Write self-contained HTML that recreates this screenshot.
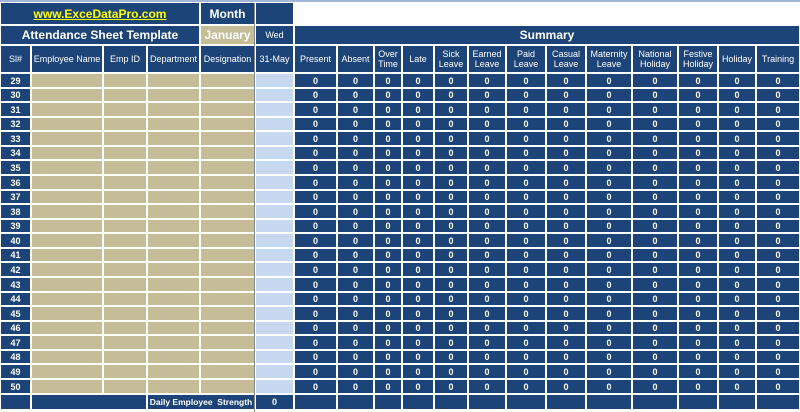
<!DOCTYPE html>
<html><head><meta charset="utf-8"><style>
body{margin:0;width:800px;height:412px;background:#fff;position:relative;overflow:hidden;font-family:"Liberation Sans",sans-serif}
.c{position:absolute;box-sizing:border-box;display:flex;align-items:center;justify-content:center;text-align:center;color:#fff;font-size:9px;line-height:10px;font-family:"Liberation Sans Narrow","Liberation Sans",sans-serif;white-space:nowrap}
.n{background:#1d4479}.t{background:#c4bd97}.b{background:#c6d9f1}
.v{font-weight:bold}
</style></head><body>
<div id="root"></div>
<script>
const cols=[[1,29],[32,101],[104,145],[148,198],[201,253],[256,292],[295,335],[338,372],[375,400],[403,432],[435,466],[469,504],[507,544],[547,584],[587,630],[633,676],[679,716],[719,754],[757,798]];
const headers=["Sl#","Employee Name","Emp ID","Department","Designation","31-May","Present","Absent","Over<br>Time","Late","Sick<br>Leave","Earned<br>Leave","Paid<br>Leave","Casual<br>Leave","Maternity<br>Leave","National<br>Holiday","Festive<br>Holiday","Holiday","Training"];
const headerNames=["sl-header","employee-name-header","emp-id-header","department-header","designation-header","date-header","present-header","absent-header","overtime-header","late-header","sick-leave-header","earned-leave-header","paid-leave-header","casual-leave-header","maternity-leave-header","national-holiday-header","festive-holiday-header","holiday-header","training-header"];
const serials=[29,30,31,32,33,34,35,36,37,38,39,40,41,42,43,44,45,46,47,48,49,50];
const summaryValues=[0,0,0,0,0,0,0,0,0,0,0,0,0];
const root=document.getElementById('root');
function cell(x1,x2,y1,y2,cls,html,name,inter,style){
 const d=document.createElement('div');
 d.className='c '+cls;
 d.style.left=x1+'px';d.style.width=(x2-x1+1)+'px';d.style.top=y1+'px';d.style.height=(y2-y1+1)+'px';
 if(style)d.style.cssText+=style;
 d.innerHTML=html;
 
 
 root.appendChild(d);return d;
}
cell(0,799,0,1,'b','','top-border',false,'background:#9fb8d8');
cell(1,198,3,23,'n','<span style="color:#ffff00;text-decoration:underline;font-size:12px;font-weight:bold">www.ExceDataPro.com</span>','website-link',true);
cell(201,253,3,23,'n','<b style="font-size:12px">Month</b>','month-label',false);
cell(256,292,3,23,'n','','blank-header-cell',false);
cell(1,198,26,43,'n','<b style="font-size:12px">Attendance Sheet Template</b>','sheet-title',false);
cell(201,253,26,43,'t','<b style="font-size:12px;color:#fff">January</b>','month-value',true);
cell(256,292,26,43,'n','Wed','weekday-label',false);
cell(295,798,26,43,'n','<b style="font-size:12px">Summary</b>','summary-title',false);
cols.forEach((c,i)=>cell(c[0],c[1],46,71,'n',headers[i],headerNames[i],false));
const pitch=14.57;
serials.forEach((s,r)=>{
 const y1=Math.round(74+r*pitch),y2=Math.round(74+(r+1)*pitch)-3;
 cols.forEach((c,i)=>{
  if(i==0)cell(c[0],c[1],y1,y2,'n v',''+s,'serial-'+s,false);
  else if(i<5)cell(c[0],c[1],y1,y2,'t','','row-'+s+'-'+headerNames[i].replace('-header',''),true);
  else if(i==5)cell(c[0],c[1],y1,y2,'b','','row-'+s+'-attendance',true);
  else cell(c[0],c[1],y1,y2,'n v',''+summaryValues[i-6],'row-'+s+'-'+headerNames[i].replace('-header',''),false);
 });
});
const fy1=395,fy2=408;
cell(1,29,fy1,fy2,'n','','footer-sl',false);
cell(32,145,fy1,fy2,'n','','footer-blank',false);
cell(148,253,fy1,fy2,'n','<b style="font-size:8.5px">Daily Employee&nbsp; Strength</b>','daily-strength-label',false);
cell(256,292,fy1,fy2,'n v','0','daily-strength-value',false);
cols.slice(6).forEach((c,i)=>cell(c[0],c[1],fy1,fy2,'n','','footer-'+headerNames[i+6].replace('-header',''),false));
cell(254,254,3,411,'','','column-divider',false,'background:#8a8a8a');
</script>
</body></html>
